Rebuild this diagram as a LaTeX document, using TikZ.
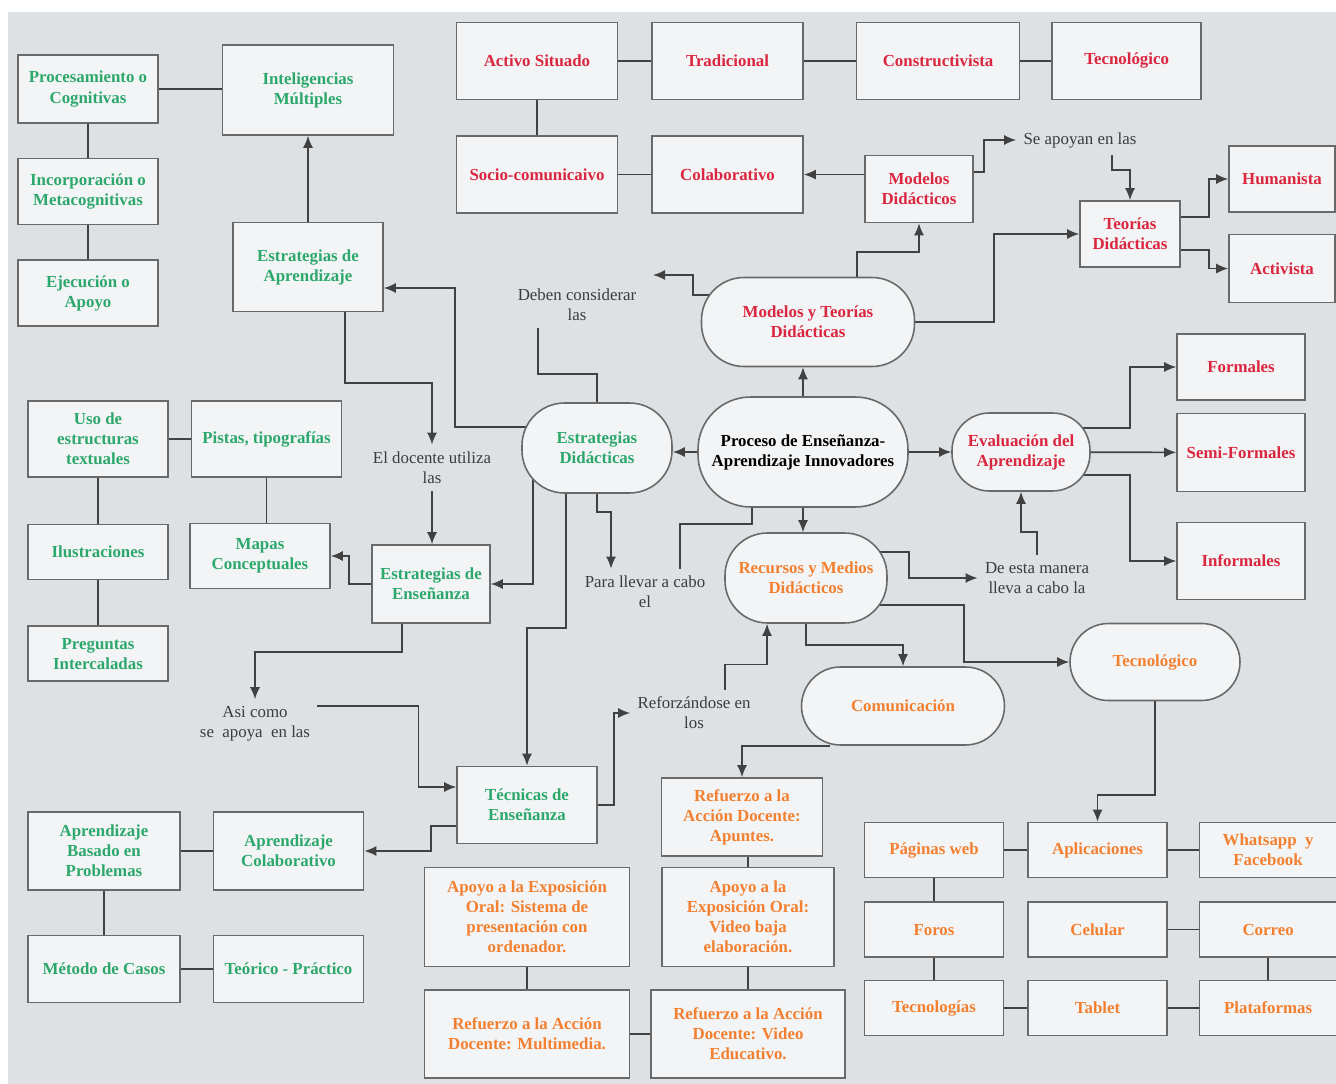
\documentclass[tikz,border=0pt]{standalone}
\usepackage{fontspec}
\setmainfont{Liberation Serif}
\usepackage{xcolor}
\usepackage{tikz}
\usetikzlibrary{arrows.meta, positioning}
\definecolor{paper}{RGB}{221,225,228}
\definecolor{boxfill}{RGB}{243,244,245}
\definecolor{boxline}{RGB}{105,105,105}
\definecolor{wire}{RGB}{65,65,65}
\definecolor{modelred}{RGB}{218,38,62}
\definecolor{stratgreen}{RGB}{44,168,108}
\definecolor{resorange}{RGB}{242,128,48}
\definecolor{notegray}{RGB}{60,60,60}
\pgfdeclarelayer{background}
\pgfdeclarelayer{links}
\pgfsetlayers{background,links,main}

\begin{document}
\begin{tikzpicture}[x=0.02cm, y=-0.02cm]
    % Define styles
    \tikzstyle{box} = [rectangle, draw=boxline, fill=boxfill, line width=0.9pt, align=center, inner sep=1pt, font=\fontsize{9.6}{11.4}\selectfont\bfseries]
    \tikzstyle{pill} = [box, rounded corners=0.85cm]
    \tikzstyle{modelo} = [text=modelred]
    \tikzstyle{estrategia} = [text=stratgreen]
    \tikzstyle{recurso} = [text=resorange]
    \tikzstyle{note} = [align=center, text=notegray, inner sep=4pt, font=\fontsize{9.6}{11.4}\selectfont]
    \tikzstyle{link} = [draw=wire, line width=0.95pt]
    \tikzstyle{arrow} = [link, -{Latex[length=2.4mm,width=2mm]}]

    \useasboundingbox (0,0) rectangle (1336,1084);

    % Center
    \node (proceso) [pill, rounded corners=1.05cm, minimum width=4.2cm, minimum height=2.2cm] at (803,452) {Proceso de Enseñanza-\\Aprendizaje Innovadores};
    \node (modTeo) [pill, modelo, minimum width=4.26cm, minimum height=1.78cm] at (808,322) {Modelos y Teorías\\Didácticas};
    \node (estDid) [pill, estrategia, minimum width=3cm, minimum height=1.8cm] at (597,448) {Estrategias\\Didácticas};
    \node (recursos) [pill, recurso, minimum width=3.24cm, minimum height=1.8cm] at (806,578) {Recursos y Medios\\Didácticos};
    \node (eval) [pill, modelo, rounded corners=0.75cm, minimum width=2.76cm, minimum height=1.56cm] at (1021,452) {Evaluación del\\Aprendizaje};

    % Models (top)
    \node (activo) [box, modelo, minimum width=3.22cm, minimum height=1.54cm] at (537,61) {Activo Situado};
    \node (tradicional) [box, modelo, right=0.66cm of activo, minimum width=3.02cm, minimum height=1.54cm] {Tradicional};
    \node (constr) [box, modelo, right=1.04cm of tradicional, minimum width=3.26cm, minimum height=1.54cm] {Constructivista};
    \node (tecRed) [box, modelo, right=0.62cm of constr, minimum width=2.98cm, minimum height=1.54cm] {Tecnológico};
    \node (socio) [box, modelo, below=0.7cm of activo, minimum width=3.22cm, minimum height=1.54cm] {Socio-comunicaivo};
    \node (colab) [box, modelo, right=0.66cm of socio, minimum width=3.02cm, minimum height=1.54cm] {Colaborativo};
    \node (modDid) [box, modelo, minimum width=2.16cm, minimum height=1.34cm] at (919,189) {Modelos\\Didácticos};
    \node (teoDid) [box, modelo, minimum width=2cm, minimum height=1.32cm] at (1130,234) {Teorías\\Didácticas};
    \node (humanista) [box, modelo, minimum width=2.12cm, minimum height=1.32cm] at (1282,179) {Humanista};
    \node (activista) [box, modelo, below=0.42cm of humanista, minimum width=2.12cm, minimum height=1.36cm] {Activista};

    % Evaluation
    \node (formales) [box, modelo, minimum width=2.56cm, minimum height=1.32cm] at (1241,367) {Formales};
    \node (semi) [box, modelo, below=0.24cm of formales, minimum width=2.56cm, minimum height=1.56cm] {Semi-Formales};
    \node (informales) [box, modelo, minimum width=2.56cm, minimum height=1.54cm] at (1241,561) {Informales};

    % Strategies (left)
    \node (proc) [box, estrategia, minimum width=2.8cm, minimum height=1.36cm] at (88,89) {Procesamiento o\\Cognitivas};
    \node (incorp) [box, estrategia, below=0.68cm of proc, minimum width=2.8cm, minimum height=1.32cm] {Incorporación o\\Metacognitivas};
    \node (ejec) [box, estrategia, below=0.68cm of incorp, minimum width=2.8cm, minimum height=1.32cm] {Ejecución o\\Apoyo};
    \node (intel) [box, estrategia, minimum width=3.42cm, minimum height=1.8cm] at (308,90) {Inteligencias\\Múltiples};
    \node (estApr) [box, estrategia, minimum width=3cm, minimum height=1.78cm] at (308,267) {Estrategias de\\Aprendizaje};
    \node (estEns) [box, estrategia, minimum width=2.36cm, minimum height=1.56cm] at (431,584) {Estrategias de\\Enseñanza};
    \node (uso) [box, estrategia, minimum width=2.8cm, minimum height=1.52cm] at (98,439) {Uso de\\estructuras\\textuales};
    \node (pistas) [box, estrategia, right=0.44cm of uso, minimum width=3cm, minimum height=1.52cm] {Pistas, tipografías};
    \node (ilus) [box, estrategia, below=0.92cm of uso, minimum width=2.8cm, minimum height=1.1cm] {Ilustraciones};
    \node (preg) [box, estrategia, below=0.9cm of ilus, minimum width=2.8cm, minimum height=1.1cm] {Preguntas\\Intercaladas};
    \node (mapas) [box, estrategia, minimum width=2.8cm, minimum height=1.3cm] at (260,556) {Mapas\\Conceptuales};
    \node (tecEns) [box, estrategia, minimum width=2.8cm, minimum height=1.54cm] at (527,805) {Técnicas de\\Enseñanza};
    \node (abp) [box, estrategia, minimum width=3.04cm, minimum height=1.56cm] at (104,851) {Aprendizaje\\Basado en\\Problemas};
    \node (colabApr) [box, estrategia, right=0.64cm of abp, minimum width=3cm, minimum height=1.56cm] {Aprendizaje\\Colaborativo};
    \node (metodo) [box, estrategia, below=0.88cm of abp, minimum width=3.04cm, minimum height=1.34cm] {Método de Casos};
    \node (teorico) [box, estrategia, right=0.64cm of metodo, minimum width=3cm, minimum height=1.34cm] {Teórico - Práctico};

    % Resources (bottom right)
    \node (comm) [pill, recurso, rounded corners=0.78cm, minimum width=4.06cm, minimum height=1.56cm] at (903,706) {Comunicación};
    \node (tecOr) [pill, recurso, rounded corners=0.77cm, minimum width=3.4cm, minimum height=1.54cm] at (1155,662) {Tecnológico};
    \node (refAp) [box, recurso, minimum width=3.22cm, minimum height=1.56cm] at (742,817) {Refuerzo a la\\Acción Docente:\\Apuntes.};
    \node (apoyoSis) [box, recurso, minimum width=4.1cm, minimum height=1.98cm] at (527,917) {Apoyo a la Exposición\\Oral: Sistema de\\presentación con\\ordenador.};
    \node (apoyoVid) [box, recurso, minimum width=3.44cm, minimum height=1.98cm] at (748,917) {Apoyo a la\\Exposición Oral:\\Video baja\\elaboración.};
    \node (refMul) [box, recurso, below=0.44cm of apoyoSis, minimum width=4.1cm, minimum height=1.76cm] {Refuerzo a la Acción\\Docente: Multimedia.};
    \node (refVid) [box, recurso, below=0.44cm of apoyoVid, minimum width=3.88cm, minimum height=1.76cm] {Refuerzo a la Acción\\Docente: Video\\Educativo.};
    \node (paginas) [box, recurso, minimum width=2.78cm, minimum height=1.1cm] at (934,850) {Páginas web};
    \node (apps) [box, recurso, right=0.46cm of paginas, minimum width=2.78cm, minimum height=1.1cm] {Aplicaciones};
    \node (whats) [box, recurso, right=0.62cm of apps, minimum width=2.74cm, minimum height=1.1cm] {Whatsapp \ y\\Facebook};
    \node (foros) [box, recurso, below=0.46cm of paginas, minimum width=2.78cm, minimum height=1.1cm] {Foros};
    \node (celular) [box, recurso, below=0.46cm of apps, minimum width=2.78cm, minimum height=1.1cm] {Celular};
    \node (correo) [box, recurso, below=0.46cm of whats, minimum width=2.74cm, minimum height=1.1cm] {Correo};
    \node (tecnologias) [box, recurso, below=0.44cm of foros, minimum width=2.78cm, minimum height=1.1cm] {Tecnologías};
    \node (tablet) [box, recurso, below=0.44cm of celular, minimum width=2.78cm, minimum height=1.1cm] {Tablet};
    \node (plataformas) [box, recurso, below=0.44cm of correo, minimum width=2.74cm, minimum height=1.1cm] {Plataformas};

    % Connector texts
    \node (deben) [note] at (577,305) {Deben considerar\\las};
    \node (docente) [note] at (432,468) {El docente utiliza\\las};
    \node (asi) [note] at (255,724) {Asi como\\se\ \ apoya\ \ en las};
    \node (para) [note] at (645,592) {Para llevar a cabo\\el};
    \node (refuerz) [note] at (694,713) {Reforzándose en\\los};
    \node (deesta) [note] at (1037,578) {De esta manera\\lleva a cabo la};
    \node (seapoyan) [note] at (1080,140) {Se apoyan en las};
    \coordinate (debenTip) at (653,275);

    \begin{pgfonlayer}{background}
        \fill [white] (0,0) rectangle (1336,1084);
        \fill [paper] (8,12) rectangle (1336,1084);
    \end{pgfonlayer}

    \begin{pgfonlayer}{links}
    % Arrows
    \draw [link] (proc.east) -- (proc.east -| intel.west);
    \draw [link] (proc) -- (incorp);
    \draw [link] (incorp) -- (ejec);
    \draw [arrow] (estApr.north) -- (estApr.north |- intel.south);

    \draw [link] (activo) -- (tradicional);
    \draw [link] (tradicional) -- (constr);
    \draw [link] (constr) -- (tecRed);
    \draw [link] (activo) -- (socio);
    \draw [link] (socio) -- (colab);
    \draw [arrow] (modDid.west |- colab.east) -- (colab.east);
    \draw [arrow] ([xshift=0.98cm]modTeo.center) -- ++(0,-70) -| (modDid.south);
    \draw [arrow] (modTeo.center) -- ++(186,0) |- (teoDid.west);
    \draw [arrow] ([yshift=0.34cm]modDid.east) -- ++(10,0) |- (seapoyan.west);
    \draw [arrow] ([xshift=0.64cm]seapoyan.south) -- ++(0,15) -| (teoDid.north);
    \draw [arrow] ([yshift=0.34cm]teoDid.east) -- ++(28,0) |- (humanista.west);
    \draw [arrow] ([yshift=-0.32cm]teoDid.east) -- ++(28,0) |- (activista.west);

    \draw [arrow] (proceso.north) -- (proceso.north |- modTeo.south);
    \draw [arrow] (proceso.south) -- (proceso.south |- recursos.north);
    \draw [arrow] (proceso.west) -- (proceso.west -| estDid.east);
    \draw [arrow] (proceso.east) -- (proceso.east -| eval.west);
    \draw [arrow] ([yshift=0.54cm]modTeo.center) -| (693,275) -- (debenTip);
    \draw [link] ([xshift=-0.78cm]deben.south) |- ([yshift=0.56cm]estDid.north) -- (estDid.center);

    \draw [arrow] ([yshift=0.42cm]estDid.center) -- ++(-142,0) |- ([yshift=-0.42cm]estApr.east);
    \draw [arrow] ([xshift=0.74cm]estApr.south) -- ++(0,71) -| (docente.north);
    \draw [arrow] (docente.south) -- (docente.south |- estEns.north);
    \draw [arrow] ([xshift=-1.28cm]estDid.center) |- (estEns.east);
    \draw [arrow] ([xshift=-0.62cm]estDid.center) -- ++(0,180) -| (tecEns.north);
    \draw [arrow] (estDid.center) -- ++(0,64) -| ([xshift=-0.68cm]para.north);
    \draw [link] ([xshift=0.7cm]para.north) |- ([xshift=-1.02cm, yshift=-0.32cm]proceso.south) -- ([xshift=-1.02cm]proceso.center);

    \draw [arrow] ([yshift=0.48cm]eval.center) -- ++(109,0) |- (formales.west);
    \draw [arrow] (eval) -- (semi);
    \draw [arrow] ([yshift=-0.46cm]eval.center) -- ++(109,0) |- (informales.west);
    \draw [arrow] (deesta.north) -- ++(0,-23) -| (eval.south);

    \draw [arrow] ([yshift=0.52cm]recursos.center) -- ++(103,0) |- (deesta.west);
    \draw [arrow] ([yshift=-0.54cm]recursos.center) -- ++(158,0) |- (tecOr.west);
    \draw [arrow] (recursos.center) -- ++(0,67) -| (comm.north);
    \draw [arrow] ([xshift=0.62cm]refuerz.north) -- ++(0,-25) -| ([xshift=-0.78cm]recursos.south);
    \draw [arrow] (tecEns.east) -- ++(16,0) |- (refuerz.west);
    \draw [arrow] ([xshift=-1.46cm]comm.south) -| (refAp.north);
    \draw [arrow] (tecOr.south) -- ++(0,94) -| (apps.north);

    \draw [arrow] (estEns.west) -- ++(-22,0) |- (mapas.east);
    \draw [arrow] ([xshift=-0.58cm]estEns.south) -- ++(0,28) -| (asi.north);
    \draw [arrow] ([yshift=0.36cm]asi.east) -- ++(101,0) |- ([yshift=0.36cm]tecEns.west);
    \draw [arrow] ([yshift=-0.42cm]tecEns.west) -- ++(-25,0) |- (colabApr.east);
    \draw [link] (uso) -- (pistas);
    \draw [link] (uso) -- (ilus);
    \draw [link] (ilus) -- (preg);
    \draw [link] (pistas.south) -- (pistas.south |- mapas.north);
    \draw [link] (abp) -- (colabApr);
    \draw [link] (abp) -- (metodo);
    \draw [link] (metodo) -- (teorico);

    \draw [link] (apoyoVid.north) -- (apoyoVid.north |- refAp.south);
    \draw [link] (apoyoSis) -- (refMul);
    \draw [link] (apoyoVid) -- (refVid);
    \draw [link] (refMul) -- (refVid);
    \draw [link] (paginas) -- (apps);
    \draw [link] (apps) -- (whats);
    \draw [link] (paginas) -- (foros);
    \draw [link] (foros) -- (tecnologias);
    \draw [link] (celular) -- (correo);
    \draw [link] (correo) -- (plataformas);
    \draw [link] (tecnologias) -- (tablet);
    \draw [link] (tablet) -- (plataformas);
    \end{pgfonlayer}
\end{tikzpicture}
\end{document}
